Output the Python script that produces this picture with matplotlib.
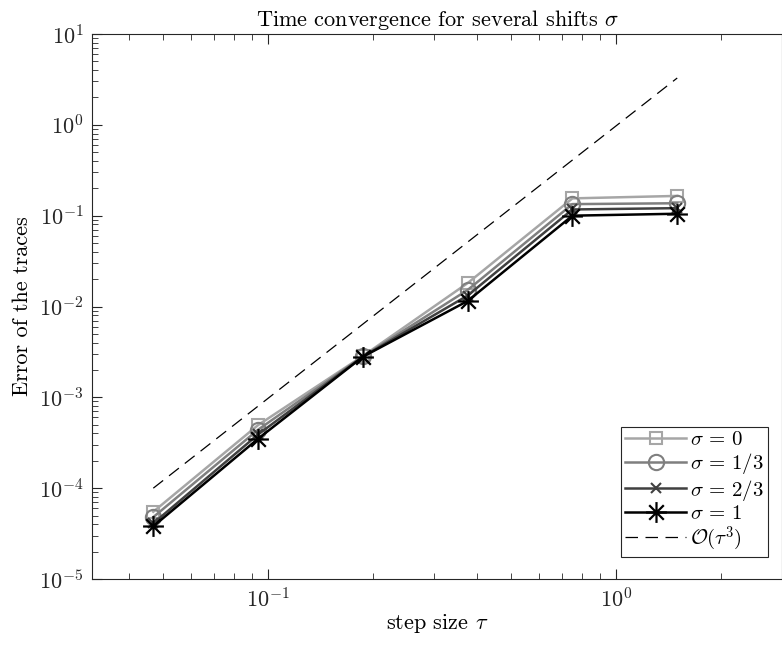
import numpy as np
import matplotlib
matplotlib.use('Agg')
import matplotlib.pyplot as plt
from matplotlib.path import Path
from matplotlib.ticker import NullFormatter

plt.rcParams['font.family'] = 'serif'
plt.rcParams['font.serif'] = ['cmr10']
plt.rcParams['mathtext.fontset'] = 'cm'
plt.rcParams['axes.formatter.use_mathtext'] = True
plt.rcParams['axes.unicode_minus'] = False

# step sizes and trace errors per shift
tau = [0.046875, 0.09375, 0.1875, 0.375, 0.75, 1.5]
err_s0 = [5.5e-5, 4.95e-4, 2.85e-3, 0.0181, 0.155, 0.165]
err_s13 = [4.8e-5, 4.4e-4, 2.82e-3, 0.0152, 0.134, 0.137]
err_s23 = [4.1e-5, 3.9e-4, 2.8e-3, 0.0132, 0.117, 0.121]
err_s1 = [3.8e-5, 3.5e-4, 2.8e-3, 0.0115, 0.100, 0.105]
labels = [r'$\sigma\, =\, 0$', r'$\sigma\, =\, 1/3$', r'$\sigma\, =\, 2/3$', r'$\sigma\, =\, 1$']
ref_start = 1e-4  # reference O(tau^3) line value at the smallest tau

fig = plt.figure(figsize=(7.82, 6.46), dpi=100)
ax = fig.add_axes([92/782, 1-579/646, 690/782, 545/646])

# MATLAB-like asterisk marker
star = Path([(-1, 0), (1, 0), (0, 1), (0, -1), (0.7, 0.7), (-0.7, -0.7), (0.7, -0.7), (-0.7, 0.7)],
            [Path.MOVETO, Path.LINETO] * 4)

styles = [
    dict(color='#a6a6a6', marker='s', ms=9, mfc='none', mew=1.5),
    dict(color='#7f7f7f', marker='o', ms=11, mfc='none', mew=1.5),
    dict(color='#404040', marker='x', ms=7, mew=1.5),
    dict(color='#000000', marker=star, ms=15, mew=1.6),
]

for err, lab, st in zip([err_s0, err_s13, err_s23, err_s1], labels, styles):
    ax.loglog(tau, err, lw=1.8, label=lab, **st)

tau_arr = np.array(tau)
ax.loglog(tau_arr, ref_start * (tau_arr / tau_arr[0]) ** 3, 'k--', lw=0.9,
          dashes=(10, 6), label=r'$\mathcal{O}(\tau^3)$')

ax.set_xlim(1/32, 3)
ax.set_ylim(1e-5, 1e1)
ax.set_title(r'Time convergence for several shifts $\sigma$', fontsize=16)
ax.set_xlabel(r'step size $\tau$', fontsize=16, labelpad=0)
ax.set_ylabel('Error of the traces', fontsize=16, labelpad=5)
ax.xaxis.set_minor_formatter(NullFormatter())
ax.yaxis.set_minor_formatter(NullFormatter())

ax.tick_params(which='both', direction='in', top=True, right=False, colors='#262626', labelsize=16)
ax.tick_params(which='major', length=7, width=0.8, pad=6)
ax.tick_params(which='minor', length=4, width=0.6)
for sp in ax.spines.values():
    sp.set_color('#262626')
    sp.set_linewidth(0.8)

leg = ax.legend(loc='lower right', bbox_to_anchor=(768/782, 1 - 557/646), bbox_transform=fig.transFigure,
                fontsize=15, fancybox=False, framealpha=1, borderaxespad=0,
                edgecolor='#262626', handlelength=2.9, handletextpad=0.2,
                borderpad=0.2, labelspacing=0.08)
leg.get_frame().set_linewidth(0.8)

fig.savefig('out.png', dpi=100)
